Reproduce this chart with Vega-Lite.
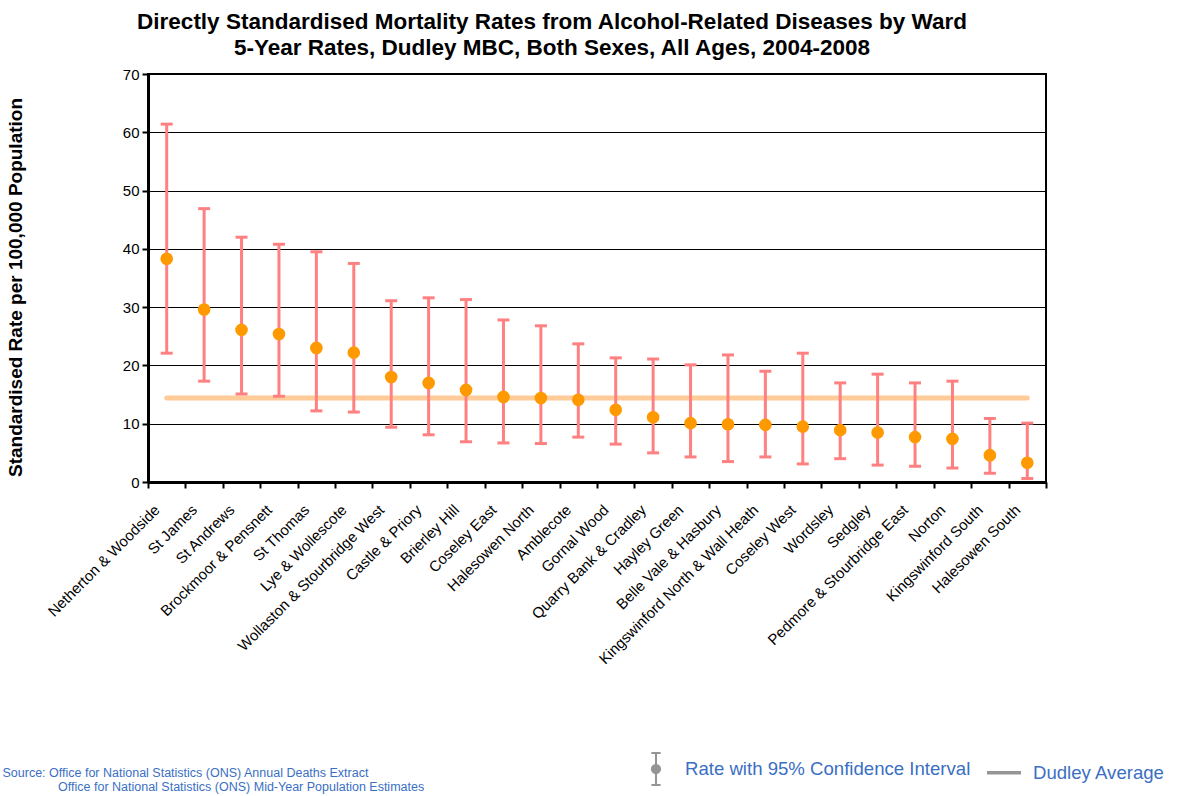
{
  "$schema": "https://vega.github.io/schema/vega-lite/v6.json",
  "autosize": {"type": "none"},
  "width": 898,
  "height": 408,
  "padding": {"left": 148, "top": 74, "right": 131, "bottom": 314},
  "background": "white",
  "config": {
    "font": "Liberation Sans",
    "view": {"stroke": "#000000", "strokeWidth": 2}
  },
  "title": {
    "text": ["Directly Standardised Mortality Rates from Alcohol-Related Diseases by Ward", "5-Year Rates, Dudley MBC, Both Sexes, All Ages, 2004-2008"],
    "anchor": "middle",
    "frame": "group",
    "dx": -45,
    "offset": 8,
    "font": "Liberation Sans",
    "fontSize": 22.5,
    "fontWeight": "bold",
    "color": "#000000",
    "lineHeight": 26
  },
  "data": {
    "values": [
      {"ward": "Netherton & Woodside", "rate": 38.3, "lower": 22.1, "upper": 61.4, "avg": 14.4},
      {"ward": "St James", "rate": 29.6, "lower": 17.3, "upper": 46.9, "avg": 14.4},
      {"ward": "St Andrews", "rate": 26.1, "lower": 15.1, "upper": 42.0, "avg": 14.4},
      {"ward": "Brockmoor & Pensnett", "rate": 25.4, "lower": 14.7, "upper": 40.8, "avg": 14.4},
      {"ward": "St Thomas", "rate": 23.0, "lower": 12.2, "upper": 39.5, "avg": 14.4},
      {"ward": "Lye & Wollescote", "rate": 22.2, "lower": 12.0, "upper": 37.5, "avg": 14.4},
      {"ward": "Wollaston & Stourbridge West", "rate": 18.0, "lower": 9.4, "upper": 31.1, "avg": 14.4},
      {"ward": "Castle & Priory", "rate": 17.0, "lower": 8.1, "upper": 31.6, "avg": 14.4},
      {"ward": "Brierley Hill", "rate": 15.8, "lower": 6.9, "upper": 31.3, "avg": 14.4},
      {"ward": "Coseley East", "rate": 14.6, "lower": 6.7, "upper": 27.8, "avg": 14.4},
      {"ward": "Halesowen North", "rate": 14.4, "lower": 6.6, "upper": 26.8, "avg": 14.4},
      {"ward": "Amblecote", "rate": 14.1, "lower": 7.7, "upper": 23.7, "avg": 14.4},
      {"ward": "Gornal Wood", "rate": 12.4, "lower": 6.5, "upper": 21.3, "avg": 14.4},
      {"ward": "Quarry Bank & Cradley", "rate": 11.1, "lower": 5.0, "upper": 21.1, "avg": 14.4},
      {"ward": "Hayley Green", "rate": 10.1, "lower": 4.3, "upper": 20.1, "avg": 14.4},
      {"ward": "Belle Vale & Hasbury", "rate": 9.9, "lower": 3.5, "upper": 21.8, "avg": 14.4},
      {"ward": "Kingswinford North & Wall Heath", "rate": 9.8, "lower": 4.3, "upper": 19.0, "avg": 14.4},
      {"ward": "Coseley West", "rate": 9.5, "lower": 3.1, "upper": 22.1, "avg": 14.4},
      {"ward": "Wordsley", "rate": 8.9, "lower": 4.0, "upper": 17.0, "avg": 14.4},
      {"ward": "Sedgley", "rate": 8.5, "lower": 2.9, "upper": 18.5, "avg": 14.4},
      {"ward": "Pedmore & Stourbridge East", "rate": 7.7, "lower": 2.7, "upper": 17.0, "avg": 14.4},
      {"ward": "Norton", "rate": 7.4, "lower": 2.4, "upper": 17.3, "avg": 14.4},
      {"ward": "Kingswinford South", "rate": 4.6, "lower": 1.5, "upper": 10.9, "avg": 14.4},
      {"ward": "Halesowen South", "rate": 3.3, "lower": 0.6, "upper": 10.1, "avg": 14.4}
    ]
  },
  "encoding": {
    "x": {
      "field": "ward",
      "type": "nominal",
      "sort": null,
      "scale": {"paddingInner": 0, "paddingOuter": 0},
      "axis": {
        "title": ["Source: Office for National Statistics (ONS) Annual Deaths Extract", "\u200b\u00a0\u00a0\u00a0\u00a0\u00a0\u00a0\u00a0\u00a0\u00a0\u00a0\u00a0\u00a0\u00a0\u00a0\u00a0\u00a0Office for National Statistics (ONS) Mid-Year Population Estimates"],
        "titleAnchor": "start",
        "titleAlign": "left",
        "titleX": -146,
        "titleY": 294,
        "titleFont": "Liberation Sans",
        "titleFontSize": 12.5,
        "titleFontWeight": "normal",
        "titleColor": "#3A6FC4",
        "titleLineHeight": 14,
        "titleBaseline": "alphabetic",
        "labelAngle": -45,
        "labelFontSize": 15,
        "labelLimit": 400,
        "labelColor": "#000000",
        "labelFont": "Liberation Sans",
        "labelBaseline": "top",
        "labelPadding": 14,
        "labelOffset": -15,
        "domainColor": "#000000",
        "domainWidth": 3,
        "tickColor": "#000000",
        "tickWidth": 2,
        "tickSize": 6,
        "tickBand": "extent",
        "grid": false
      }
    }
  },
  "layer": [
    {
      "mark": {"type": "line", "color": "#FFCC99", "strokeWidth": 5, "strokeCap": "round"},
      "encoding": {
        "y": {
          "field": "avg",
          "type": "quantitative",
          "scale": {"domain": [0, 70], "nice": false},
          "axis": {
            "title": "Standardised Rate per 100,000 Population",
            "titleFont": "Liberation Sans",
            "titleFontSize": 19,
            "titleFontWeight": "bold",
            "titleColor": "#000000",
            "titleBaseline": "middle",
            "titleX": -133,
            "titleY": 213,
            "values": [0, 10, 20, 30, 40, 50, 60, 70],
            "labelFontSize": 15,
            "labelColor": "#000000",
            "labelFont": "Liberation Sans",
            "labelPadding": 3,
            "domainColor": "#000000",
            "domainWidth": 3,
            "tickColor": "#000000",
            "tickWidth": 2,
            "tickSize": 6,
            "grid": true,
            "gridColor": "#000000",
            "gridWidth": 1.2,
            "gridOpacity": 1
          }
        }
      }
    },
    {
      "mark": {"type": "rule", "color": "#FF8080", "strokeWidth": 3},
      "encoding": {
        "y": {"field": "lower", "type": "quantitative"},
        "y2": {"field": "upper"}
      }
    },
    {
      "mark": {"type": "tick", "color": "#FF8080", "size": 12, "thickness": 3, "opacity": 1},
      "encoding": {"y": {"field": "lower", "type": "quantitative"}}
    },
    {
      "mark": {"type": "tick", "color": "#FF8080", "size": 12, "thickness": 3, "opacity": 1},
      "encoding": {"y": {"field": "upper", "type": "quantitative"}}
    },
    {
      "mark": {"type": "point", "filled": true, "color": "#959595", "opacity": 0, "size": 1156},
      "encoding": {
        "y": {"field": "rate", "type": "quantitative"},
        "shape": {
          "datum": "Rate with 95% Confidence Interval",
          "scale": {
            "domain": ["Rate with 95% Confidence Interval", "Dudley Average"],
            "range": [
              "M-0.27,-1H0.27V-0.88H-0.27Z M-0.06,-0.88H0.06V-0.3H-0.06Z M-0.06,0.3H0.06V0.88H-0.06Z M-0.27,0.88H0.27V1H-0.27Z M-0.3,0A0.3,0.3 0 1,0 0.3,0A0.3,0.3 0 1,0 -0.3,0Z",
              "M-1,-0.1H1V0.1H-1Z"
            ]
          },
          "legend": {
            "title": null,
            "orient": "none",
            "legendX": 491,
            "legendY": 678,
            "direction": "horizontal",
            "symbolSize": 1156,
            "symbolStrokeWidth": 0,
            "symbolOpacity": 1,
            "labelFont": "Liberation Sans",
            "labelFontSize": 18.6,
            "labelColor": "#3A6FC4",
            "labelLimit": 400,
            "labelOffset": 12,
            "columnPadding": 16,
            "encode": {
              "symbols": {
                "fill": {"condition": {"test": "datum.value === 'Dudley Average'", "value": "#C4C4C4"}, "value": "#959595"}
              }
            }
          }
        }
      }
    },
    {
      "mark": {"type": "point", "filled": true, "color": "#FF9900", "size": 160, "opacity": 1},
      "encoding": {"y": {"field": "rate", "type": "quantitative"}}
    }
  ]
}
